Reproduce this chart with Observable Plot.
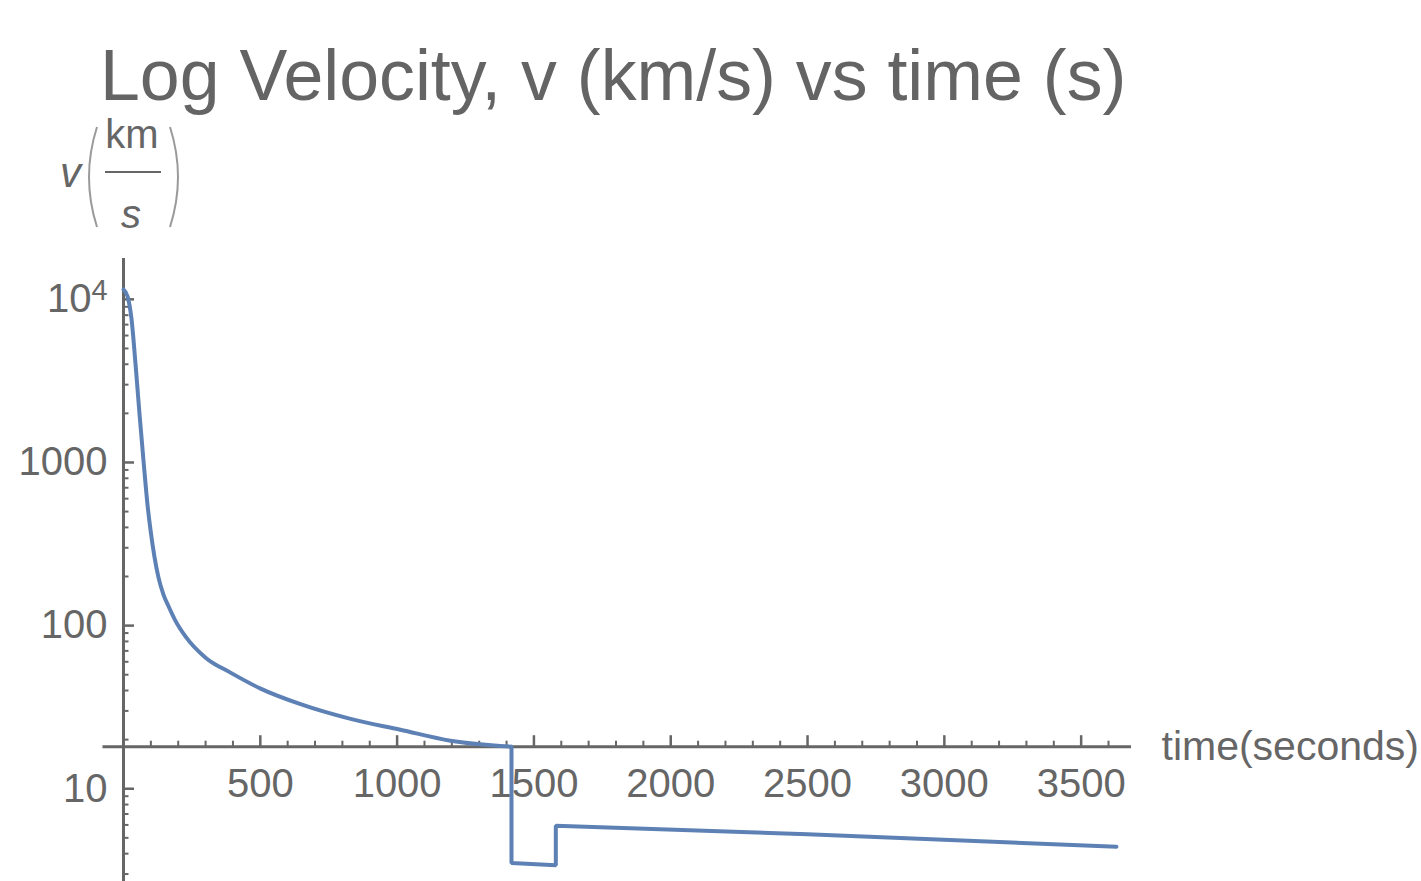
<!DOCTYPE html>
<html><head><meta charset="utf-8">
<script src="https://cdn.jsdelivr.net/npm/d3@7"></script>
<script src="https://cdn.jsdelivr.net/npm/@observablehq/plot@0.6"></script>
<style>
body{margin:0;background:#fff;}
#wrap{position:relative;width:1421px;height:881px;overflow:hidden;font-family:"Liberation Sans",Arial,sans-serif;color:#646464;}
#title{height:120px;box-sizing:border-box;padding-top:40px;padding-left:100px;font-size:71.7px;line-height:71.7px;white-space:nowrap;}
#ylab{position:absolute;left:0;top:0;}
#chart svg{display:block;}
</style></head><body>
<div id="wrap">
<div id="title">Log Velocity, v (km/s) vs time (s)</div>
<div id="chart"></div>
<svg id="ylab" width="200" height="240" font-family="Liberation Sans, Arial, sans-serif" fill="#666">
  <text x="60" y="187" font-size="42" font-style="italic">v</text>
  <path d="M97,127 Q81,177 97,227" fill="none" stroke="#9a9a9a" stroke-width="2"/>
  <text x="132" y="148" font-size="40" text-anchor="middle">km</text>
  <line x1="105" x2="161" y1="172" y2="172" stroke="#666" stroke-width="2"/>
  <text x="131" y="228" font-size="40" font-style="italic" text-anchor="middle">s</text>
  <path d="M170,127 Q186,177 170,227" fill="none" stroke="#9a9a9a" stroke-width="2"/>
</svg>
</div>
<script>
// data
// decay phase (smooth curve)
const decayTimes = [0, 15, 29, 44, 58, 73, 88, 99, 113, 128, 146, 165, 190, 227, 300, 391, 501, 647, 830, 1012, 1195, 1418];
const decayVelocity = [11500, 10400, 7650, 4000, 2030, 1030, 545, 383, 265, 197, 155, 131, 107, 85.6, 63.6, 51.5, 41.1, 33, 26.8, 23, 19.7, 18.1];
// stepped phase (straight segments)
const stepTimes = [1418, 1418, 1580, 1580, 2500, 3629];
const stepVelocity = [18.1, 3.5, 3.4, 5.93, 5.26, 4.41];

const xMajorTicks = [500, 1000, 1500, 2000, 2500, 3000, 3500];
const xTickLabels = ["500", "1000", "1500", "2000", "2500", "3000", "3500"];
const xMinorTicks = [100, 200, 300, 400, 600, 700, 800, 900, 1100, 1200, 1300, 1400, 1600, 1700, 1800, 1900, 2100, 2200, 2300, 2400, 2600, 2700, 2800, 2900, 3100, 3200, 3300, 3400, 3600];
const yMajorTicks = [10, 100, 1000, 10000];
const yTickLabels = ["10", "100", "1000", "10\u2074"];
const yMinorTicks = [3, 4, 5, 6, 7, 8, 9, 20, 30, 40, 50, 60, 70, 80, 90, 200, 300, 400, 500, 600, 700, 800, 900, 2000, 3000, 4000, 5000, 6000, 7000, 8000, 9000];
const xDomain = [0, 3684];
const xAxisStart = [-75];
const yDomain = [2.7, 17800];
const axisOrigin = [18.1];
const xAxisLabel = ["time(seconds)"];

const decay = decayTimes.map((t, i) => ({t, v: decayVelocity[i]}));
const step = stepTimes.map((t, i) => ({t, v: stepVelocity[i]}));
const ax = "#666666";
const lineColor = "#5e81b5";
const orig = axisOrigin[0];

const chart = Plot.plot({
  width: 1421,
  height: 761,
  marginTop: 138,
  marginBottom: 0,
  marginLeft: 123,
  marginRight: 290,
  style: {fontFamily: "Liberation Sans, Arial, sans-serif", fontSize: "40px", background: "white", color: ax},
  x: {domain: xDomain, axis: null},
  y: {type: "log", domain: yDomain, axis: null},
  marks: [
    Plot.ruleX([0], {stroke: ax, strokeWidth: 3}),
    Plot.ruleY(axisOrigin, {y: d => d, x1: () => xAxisStart[0], x2: () => xDomain[1], stroke: ax, strokeWidth: 3}),
    Plot.ruleY(yMajorTicks, {y: d => d, x1: () => 0, x2: () => 0, insetRight: -11, stroke: ax, strokeWidth: 2.5}),
    Plot.ruleY(yMinorTicks, {y: d => d, x1: () => 0, x2: () => 0, insetRight: -5.5, stroke: ax, strokeWidth: 2}),
    Plot.ruleX(xMajorTicks, {x: d => d, y1: () => orig, y2: () => orig, insetTop: -11, stroke: ax, strokeWidth: 2.5}),
    Plot.ruleX(xMinorTicks, {x: d => d, y1: () => orig, y2: () => orig, insetTop: -5.5, stroke: ax, strokeWidth: 2}),
    Plot.text(yMajorTicks, {x: () => 0, y: d => d, text: (d, i) => yTickLabels[i], dx: -16, textAnchor: "end", fontSize: 40, fill: ax}),
    Plot.text(xMajorTicks, {x: d => d, y: () => orig, text: (d, i) => xTickLabels[i], dy: 37, fontSize: 40, fill: ax}),
    Plot.text(xAxisLabel, {x: () => xDomain[1], y: () => orig, text: d => d, dx: 30, textAnchor: "start", fontSize: 41, fill: ax}),
    Plot.line(decay, {x: "t", y: "v", stroke: lineColor, strokeWidth: 4, strokeLinejoin: "round", curve: "monotone-x"}),
    Plot.line(step, {x: "t", y: "v", stroke: lineColor, strokeWidth: 4, strokeLinejoin: "miter"})
  ]
});
document.getElementById("chart").appendChild(chart);
chart.querySelectorAll("text").forEach(el => {
  if (el.textContent === "10\u2074") {
    el.innerHTML = '10<tspan dy="-0.42em" font-size="0.72em">4</tspan>';
  }
});
</script>
</body></html>
